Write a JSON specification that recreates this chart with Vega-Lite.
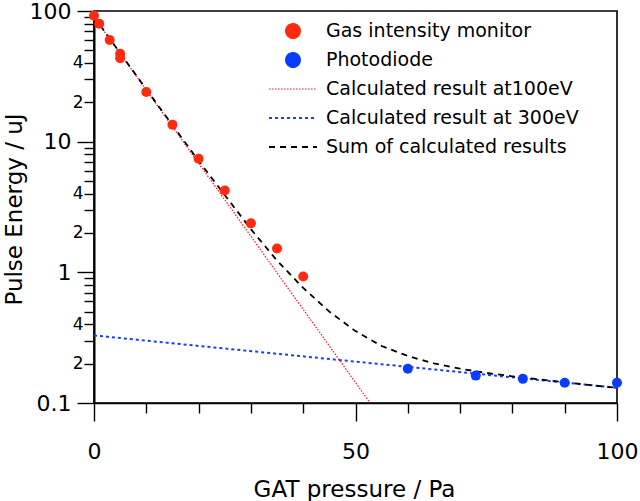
{
  "$schema": "https://vega.github.io/schema/vega-lite/v6.json",
  "width": 523,
  "height": 392,
  "autosize": "none",
  "padding": {"left": 94, "top": 11, "right": 23, "bottom": 98},
  "config": {
    "view": {"stroke": "black", "strokeWidth": 1.6},
    "font": "DejaVu Sans",
    "axis": {"grid": false, "domainColor": "black", "domainWidth": 1.6, "tickColor": "black", "tickWidth": 1.4, "labelColor": "black", "titleColor": "black", "labelFont": "DejaVu Sans", "titleFont": "DejaVu Sans", "titleFontWeight": "normal", "labelOverlap": false, "labelBound": false, "labelFlush": false}
  },
  "data": {
    "values": [
      {"series": "Gas intensity monitor", "x": 0, "y": 92},
      {"series": "Gas intensity monitor", "x": 1, "y": 80},
      {"series": "Gas intensity monitor", "x": 3, "y": 60},
      {"series": "Gas intensity monitor", "x": 5, "y": 47},
      {"series": "Gas intensity monitor", "x": 5, "y": 43.5},
      {"series": "Gas intensity monitor", "x": 10, "y": 24},
      {"series": "Gas intensity monitor", "x": 15, "y": 13.5},
      {"series": "Gas intensity monitor", "x": 20, "y": 7.4},
      {"series": "Gas intensity monitor", "x": 25, "y": 4.23},
      {"series": "Gas intensity monitor", "x": 30, "y": 2.37},
      {"series": "Gas intensity monitor", "x": 35, "y": 1.52},
      {"series": "Gas intensity monitor", "x": 40, "y": 0.93},
      {"series": "Photodiode", "x": 60, "y": 0.183},
      {"series": "Photodiode", "x": 73, "y": 0.162},
      {"series": "Photodiode", "x": 82, "y": 0.153},
      {"series": "Photodiode", "x": 90, "y": 0.143},
      {"series": "Photodiode", "x": 100, "y": 0.143},
      {"series": "Calculated result at100eV", "x": 0, "y": 90},
      {"series": "Calculated result at100eV", "x": 52.8, "y": 0.1},
      {"series": "Calculated result at 300eV", "x": 0, "y": 0.329},
      {"series": "Calculated result at 300eV", "x": 100, "y": 0.1307},
      {"series": "Sum of calculated results", "x": 0, "y": 90.3},
      {"series": "Sum of calculated results", "x": 10, "y": 25.15},
      {"series": "Sum of calculated results", "x": 20, "y": 7.13},
      {"series": "Sum of calculated results", "x": 30, "y": 2.14},
      {"series": "Sum of calculated results", "x": 35, "y": 1.23},
      {"series": "Sum of calculated results", "x": 40, "y": 0.76},
      {"series": "Sum of calculated results", "x": 45, "y": 0.5},
      {"series": "Sum of calculated results", "x": 50, "y": 0.355},
      {"series": "Sum of calculated results", "x": 55, "y": 0.273},
      {"series": "Sum of calculated results", "x": 60, "y": 0.229},
      {"series": "Sum of calculated results", "x": 65, "y": 0.201},
      {"series": "Sum of calculated results", "x": 70, "y": 0.183},
      {"series": "Sum of calculated results", "x": 75, "y": 0.170},
      {"series": "Sum of calculated results", "x": 80, "y": 0.160},
      {"series": "Sum of calculated results", "x": 85, "y": 0.1517},
      {"series": "Sum of calculated results", "x": 90, "y": 0.1442},
      {"series": "Sum of calculated results", "x": 95, "y": 0.1369},
      {"series": "Sum of calculated results", "x": 100, "y": 0.1307}
    ]
  },
  "encoding": {
    "x": {
      "field": "x", "type": "quantitative",
      "scale": {"domain": [0, 100], "nice": false, "zero": false},
      "axis": {
        "title": "GAT pressure / Pa",
        "values": [0, 10, 20, 30, 40, 50, 60, 70, 80, 90, 100],
        "labelExpr": "datum.value % 50 == 0 ? datum.label : ''",
        "tickSize": {"condition": {"test": "datum.value % 50 == 0", "value": 18}, "value": 10},
        "labelFontSize": 22,
        "labelPadding": 20,
        "titleFontSize": 23,
        "titleX": 260,
        "titleY": 93,
        "titleBaseline": "alphabetic",
        "titleAlign": "center",
        "titleAnchor": null
      }
    },
    "color": {
      "field": "series", "type": "nominal",
      "scale": {
        "domain": ["Gas intensity monitor", "Photodiode", "Calculated result at100eV", "Calculated result at 300eV", "Sum of calculated results"],
        "range": ["#ff2a10", "#0a3cff", "#ff1020", "#1a3cff", "#000000"]
      },
      "legend": {
        "title": null,
        "orient": "none",
        "legendX": 175,
        "legendY": 5.5,
        "padding": 0,
        "labelFont": "DejaVu Sans",
        "labelFontSize": 19,
        "labelColor": "black",
        "labelLimit": 0,
        "clipHeight": 29,
        "rowPadding": 0,
        "symbolOffset": 14.5,
        "labelOffset": 23.5,
        "symbolStrokeWidth": 1.6,
        "encode": {
          "symbols": {
            "update": {
              "shape": {"signal": "(datum.value == 'Gas intensity monitor' || datum.value == 'Photodiode') ? 'circle' : 'stroke'"},
              "size": {"signal": "(datum.value == 'Gas intensity monitor' || datum.value == 'Photodiode') ? 200 : 2304"},
              "fill": {"signal": "(datum.value == 'Gas intensity monitor' || datum.value == 'Photodiode') ? scale('color', datum.value) : 'transparent'"},
              "stroke": {"signal": "(datum.value == 'Gas intensity monitor' || datum.value == 'Photodiode') ? 'transparent' : scale('color', datum.value)"},
              "strokeDash": {"signal": "datum.value == 'Calculated result at100eV' ? [1.5, 1.5] : datum.value == 'Calculated result at 300eV' ? [3, 3] : datum.value == 'Sum of calculated results' ? [6, 5] : [1, 0]"},
              "strokeWidth": {"signal": "datum.value == 'Calculated result at100eV' ? 1.2 : 1.8"},
              "opacity": {"value": 1}
            }
          }
        }
      }
    }
  },
  "resolve": {"axis": {"y": "independent"}},
  "layer": [
    {
      "transform": [{"filter": "datum.series == 'Calculated result at100eV'"}],
      "mark": {"type": "line", "strokeDash": [1.5, 1.5], "strokeWidth": 1.2},
      "encoding": {
        "y": {
          "field": "y", "type": "quantitative",
          "scale": {"type": "log", "domain": [0.1, 100], "nice": false},
          "axis": {
            "orient": "left",
            "title": "Pulse Energy / uJ",
            "values": [0.1, 1, 10, 100],
            "labelExpr": "datum.value == 0.1 ? '0.1' : datum.value == 1 ? '1' : datum.value == 10 ? '10' : '100'",
            "tickSize": 17,
            "labelFontSize": 22,
            "labelPadding": 6,
            "titleFontSize": 23,
            "titleAngle": -90,
            "titleX": -73,
            "titleY": 198,
            "titleBaseline": "alphabetic",
            "titleAlign": "center",
            "titleAnchor": null
          }
        }
      }
    },
    {
      "transform": [{"filter": "datum.series == 'Calculated result at 300eV'"}],
      "mark": {"type": "line", "strokeDash": [3, 3], "strokeWidth": 2},
      "encoding": {
        "y": {
          "field": "y", "type": "quantitative",
          "scale": {"type": "log", "domain": [0.1, 100], "nice": false},
          "axis": {
            "orient": "left",
            "title": null,
            "values": [0.2, 0.3, 0.4, 0.5, 0.6, 0.7, 0.8, 0.9, 2, 3, 4, 5, 6, 7, 8, 9, 20, 30, 40, 50, 60, 70, 80, 90],
            "labelExpr": "(datum.value == 0.2 || datum.value == 2 || datum.value == 20) ? '2' : (datum.value == 0.4 || datum.value == 4 || datum.value == 40) ? '4' : ''",
            "tickSize": 10,
            "labelFontSize": 17,
            "labelPadding": 1
          }
        }
      }
    },
    {
      "transform": [{"filter": "datum.series == 'Sum of calculated results'"}],
      "mark": {"type": "line", "strokeDash": [6, 5], "strokeWidth": 1.8},
      "encoding": {
        "y": {"field": "y", "type": "quantitative", "scale": {"type": "log", "domain": [0.1, 100], "nice": false}, "axis": null}
      }
    },
    {
      "transform": [{"filter": "datum.series == 'Gas intensity monitor' || datum.series == 'Photodiode'"}],
      "mark": {"type": "point", "filled": true, "shape": "circle", "size": 100, "opacity": 1},
      "encoding": {
        "y": {"field": "y", "type": "quantitative", "scale": {"type": "log", "domain": [0.1, 100], "nice": false}, "axis": null}
      }
    }
  ]
}
